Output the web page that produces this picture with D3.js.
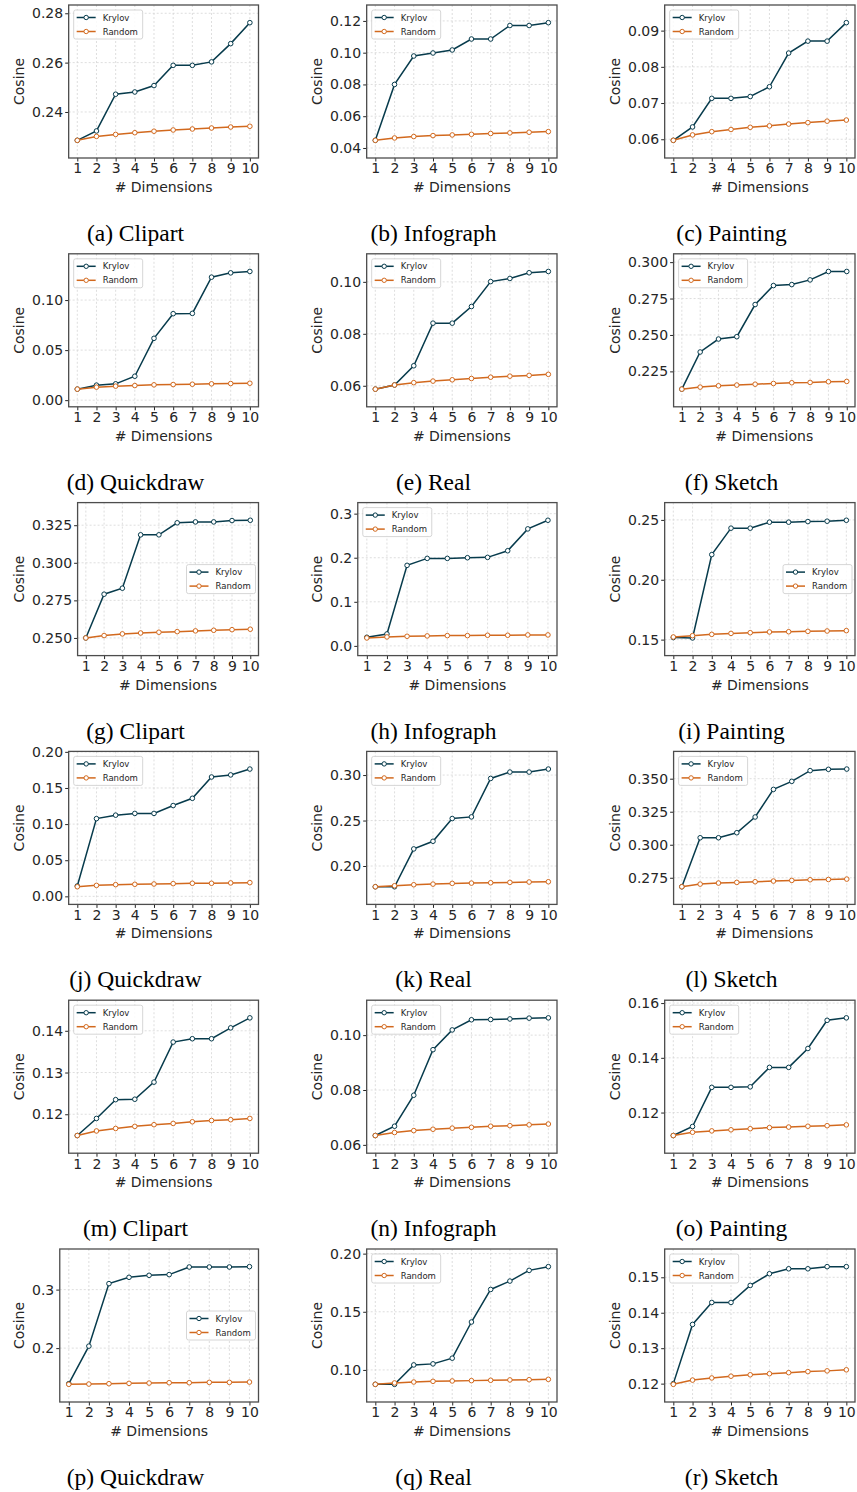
<!DOCTYPE html>
<html>
<head>
<meta charset="utf-8">
<script src="https://cdn.jsdelivr.net/npm/d3@7/dist/d3.min.js"></script>
<style>
  body { margin: 0; background: #fff; }
  svg text { font-family: "DejaVu Sans", sans-serif; fill: #262626; }
  .grid line { stroke: #d6d6d6; stroke-width: 0.8; stroke-dasharray: 2,2; }
  .axis text { font-size: 14px; }
  .axis line { stroke: #262626; }
  .axis path.domain { display: none; }
  .frame { fill: none; stroke: #4d4d4d; stroke-width: 1.3; }
  .legend text { font-size: 8.5px; }
  .caption { font-family: "Liberation Serif", "Times New Roman", serif !important; font-size: 23.5px; fill: #000 !important; }
</style>
</head>
<body>
<svg width="857" height="1492"></svg>
<script>
const dims = [1, 2, 3, 4, 5, 6, 7, 8, 9, 10];

const captions = [
  '(a) Clipart', '(b) Infograph', '(c) Painting',
  '(d) Quickdraw', '(e) Real', '(f) Sketch',
  '(g) Clipart', '(h) Infograph', '(i) Painting',
  '(j) Quickdraw', '(k) Real', '(l) Sketch',
  '(m) Clipart', '(n) Infograph', '(o) Painting',
  '(p) Quickdraw', '(q) Real', '(r) Sketch'
];

const krylov = [
  [0.2285, 0.2323, 0.2472, 0.2481, 0.2507, 0.2589, 0.2589, 0.2603, 0.2677, 0.2762],
  [0.0448, 0.0800, 0.0979, 0.0998, 0.1017, 0.1086, 0.1086, 0.1171, 0.1171, 0.1189],
  [0.0597, 0.0634, 0.0713, 0.0713, 0.0718, 0.0745, 0.0838, 0.0871, 0.0871, 0.0922],
  [0.0110, 0.0150, 0.0163, 0.0239, 0.0618, 0.0864, 0.0867, 0.1229, 0.1272, 0.1286],
  [0.0587, 0.0603, 0.0677, 0.0841, 0.0841, 0.0905, 0.1001, 0.1013, 0.1035, 0.1040],
  [0.2128, 0.2383, 0.2472, 0.2488, 0.2709, 0.2839, 0.2846, 0.2878, 0.2936, 0.2936],
  [0.2500, 0.2791, 0.2831, 0.3186, 0.3186, 0.3266, 0.3272, 0.3272, 0.3281, 0.3283],
  [0.0195, 0.0270, 0.1827, 0.1985, 0.1985, 0.2000, 0.2008, 0.2158, 0.2654, 0.2850],
  [0.1517, 0.1514, 0.2210, 0.2431, 0.2431, 0.2481, 0.2481, 0.2486, 0.2489, 0.2497],
  [0.0143, 0.1076, 0.1124, 0.1148, 0.1148, 0.1257, 0.1357, 0.1652, 0.1681, 0.1762],
  [0.1772, 0.1772, 0.2188, 0.2272, 0.2522, 0.2540, 0.2963, 0.3033, 0.3033, 0.3066],
  [0.2682, 0.3053, 0.3053, 0.3091, 0.3210, 0.3419, 0.3480, 0.3561, 0.3571, 0.3573],
  [0.1149, 0.1190, 0.1235, 0.1236, 0.1277, 0.1373, 0.1381, 0.1381, 0.1407, 0.1431],
  [0.0634, 0.0668, 0.0781, 0.0947, 0.1019, 0.1056, 0.1057, 0.1059, 0.1062, 0.1063],
  [0.1116, 0.1149, 0.1292, 0.1292, 0.1294, 0.1365, 0.1365, 0.1434, 0.1537, 0.1546],
  [0.1392, 0.2034, 0.3102, 0.3210, 0.3244, 0.3256, 0.3386, 0.3386, 0.3386, 0.3392],
  [0.0876, 0.0876, 0.1043, 0.1052, 0.1101, 0.1412, 0.1692, 0.1764, 0.1856, 0.1888],
  [0.1200, 0.1367, 0.1429, 0.1429, 0.1477, 0.1510, 0.1524, 0.1524, 0.1530, 0.1530]
];

const random = [
  [0.2285, 0.2301, 0.2309, 0.2316, 0.2322, 0.2327, 0.2331, 0.2335, 0.2339, 0.2342],
  [0.0448, 0.0463, 0.0472, 0.0478, 0.0482, 0.0486, 0.0491, 0.0495, 0.0499, 0.0503],
  [0.0597, 0.0612, 0.0621, 0.0627, 0.0633, 0.0637, 0.0642, 0.0646, 0.0650, 0.0653],
  [0.0110, 0.0130, 0.0140, 0.0146, 0.0153, 0.0156, 0.0159, 0.0163, 0.0166, 0.0169],
  [0.0587, 0.0603, 0.0612, 0.0618, 0.0623, 0.0628, 0.0633, 0.0637, 0.0640, 0.0644],
  [0.2128, 0.2142, 0.2151, 0.2156, 0.2162, 0.2167, 0.2172, 0.2174, 0.2179, 0.2181],
  [0.2500, 0.2516, 0.2527, 0.2533, 0.2538, 0.2542, 0.2547, 0.2551, 0.2555, 0.2558],
  [0.0180, 0.0203, 0.0218, 0.0226, 0.0233, 0.0233, 0.0241, 0.0241, 0.0248, 0.0248],
  [0.1522, 0.1533, 0.1544, 0.1552, 0.1558, 0.1564, 0.1566, 0.1569, 0.1572, 0.1575],
  [0.0133, 0.0152, 0.0162, 0.0167, 0.0171, 0.0176, 0.0181, 0.0181, 0.0186, 0.0190],
  [0.1772, 0.1783, 0.1794, 0.1801, 0.1809, 0.1812, 0.1816, 0.1820, 0.1824, 0.1827],
  [0.2682, 0.2702, 0.2710, 0.2715, 0.2720, 0.2725, 0.2730, 0.2735, 0.2737, 0.2740],
  [0.1149, 0.1160, 0.1166, 0.1171, 0.1175, 0.1178, 0.1182, 0.1185, 0.1187, 0.1190],
  [0.0634, 0.0645, 0.0652, 0.0657, 0.0661, 0.0664, 0.0668, 0.0670, 0.0673, 0.0676],
  [0.1116, 0.1128, 0.1133, 0.1137, 0.1141, 0.1145, 0.1147, 0.1150, 0.1152, 0.1155],
  [0.1381, 0.1386, 0.1392, 0.1398, 0.1403, 0.1409, 0.1409, 0.1415, 0.1415, 0.1420],
  [0.0876, 0.0888, 0.0896, 0.0902, 0.0905, 0.0908, 0.0911, 0.0914, 0.0916, 0.0919],
  [0.1198, 0.1210, 0.1216, 0.1221, 0.1225, 0.1228, 0.1231, 0.1234, 0.1236, 0.1239]
];

const yTicks = [
  ['0.24', '0.26', '0.28'],
  ['0.04', '0.06', '0.08', '0.10', '0.12'],
  ['0.06', '0.07', '0.08', '0.09'],
  ['0.00', '0.05', '0.10'],
  ['0.06', '0.08', '0.10'],
  ['0.225', '0.250', '0.275', '0.300'],
  ['0.250', '0.275', '0.300', '0.325'],
  ['0.0', '0.1', '0.2', '0.3'],
  ['0.15', '0.20', '0.25'],
  ['0.00', '0.05', '0.10', '0.15', '0.20'],
  ['0.20', '0.25', '0.30'],
  ['0.275', '0.300', '0.325', '0.350'],
  ['0.12', '0.13', '0.14'],
  ['0.06', '0.08', '0.10'],
  ['0.12', '0.14', '0.16'],
  ['0.2', '0.3'],
  ['0.10', '0.15', '0.20'],
  ['0.12', '0.13', '0.14', '0.15']
];

// 'ul' = upper left, 'cr' = center right
const legendAt = ['ul', 'ul', 'ul', 'ul', 'ul', 'ul', 'cr', 'ul', 'cr',
                  'ul', 'ul', 'ul', 'ul', 'ul', 'ul', 'cr', 'ul', 'ul'];

const seriesNames = ['Krylov', 'Random'];
const colors = ['#073b4c', '#d2691e'];

const svg = d3.select('svg');
const colW = 298;
const rowH = 248.8;
const colRight = [258.5, 557, 855];

captions.forEach(function(cap, i) {
  const col = i % 3;
  const row = Math.floor(i / 3);
  const ox = col * colW;
  const oy = row * rowH;
  const g = svg.append('g');

  // widest y tick label decides where the plot starts
  const probe = g.append('text').style('font-size', '14px');
  let tw = 0;
  yTicks[i].forEach(function(t) {
    probe.text(t);
    tw = Math.max(tw, probe.node().getComputedTextLength());
  });
  probe.remove();

  const left = ox + 32 + tw + 5.5;
  const right = colRight[col];
  const top = oy + 5;
  const bottom = oy + 158;

  const ext = d3.extent(krylov[i].concat(random[i]));
  const pad = (ext[1] - ext[0]) * 0.15;

  const x = d3.scaleLinear().domain([0.55, 10.45]).range([left, right]);
  const y = d3.scaleLinear().domain([ext[0] - pad, ext[1] + pad]).range([bottom, top]);
  const tickVals = yTicks[i].map(Number);

  const grid = g.append('g').attr('class', 'grid');
  grid.selectAll('.gx').data(dims).enter().append('line')
    .attr('x1', d => x(d)).attr('x2', d => x(d))
    .attr('y1', top).attr('y2', bottom);
  grid.selectAll('.gy').data(tickVals).enter().append('line')
    .attr('x1', left).attr('x2', right)
    .attr('y1', d => y(d)).attr('y2', d => y(d));

  g.append('g')
    .attr('class', 'axis')
    .attr('transform', `translate(0, ${bottom})`)
    .call(d3.axisBottom(x).tickValues(dims).tickSize(3.5).tickPadding(2).tickFormat(d3.format('d')));

  g.append('g')
    .attr('class', 'axis')
    .attr('transform', `translate(${left}, 0)`)
    .call(d3.axisLeft(y).tickValues(tickVals).tickSize(3.5).tickPadding(2)
      .tickFormat(function(d, j) { return yTicks[i][j]; }));

  [krylov[i], random[i]].forEach(function(vals, s) {
    const pts = dims.map(function(d, j) { return {x: d, y: vals[j]}; });
    const line = d3.line().x(d => x(d.x)).y(d => y(d.y));
    g.append('path')
      .datum(pts)
      .attr('d', line)
      .attr('fill', 'none')
      .attr('stroke', colors[s])
      .attr('stroke-width', 1.5);
    g.selectAll('.dot' + s).data(pts).enter().append('circle')
      .attr('cx', d => x(d.x))
      .attr('cy', d => y(d.y))
      .attr('r', 2.3)
      .attr('fill', '#fff')
      .attr('stroke', colors[s])
      .attr('stroke-width', 1);
  });

  g.append('rect')
    .attr('class', 'frame')
    .attr('x', left).attr('y', top)
    .attr('width', right - left).attr('height', bottom - top);

  // legend
  const lw = 69, lh = 29;
  const lx = legendAt[i] === 'ul' ? left + 5 : right - lw - 3;
  const ly = legendAt[i] === 'ul' ? top + 5 : (top + bottom) / 2 - lh / 2;
  const leg = g.append('g').attr('class', 'legend').attr('transform', `translate(${lx}, ${ly})`);
  leg.append('rect')
    .attr('width', lw).attr('height', lh).attr('rx', 2)
    .attr('fill', '#fff').attr('fill-opacity', 0.85)
    .attr('stroke', '#cccccc').attr('stroke-width', 0.8);
  seriesNames.forEach(function(name, s) {
    const yy = 7.5 + s * 14;
    leg.append('line')
      .attr('x1', 3).attr('x2', 22).attr('y1', yy).attr('y2', yy)
      .attr('stroke', colors[s]).attr('stroke-width', 1.5);
    leg.append('circle')
      .attr('cx', 12.5).attr('cy', yy).attr('r', 2.2)
      .attr('fill', '#fff').attr('stroke', colors[s]).attr('stroke-width', 1);
    leg.append('text')
      .attr('x', 29).attr('y', yy + 3)
      .text(name);
  });

  g.append('text')
    .attr('x', (left + right) / 2)
    .attr('y', oy + 192)
    .attr('text-anchor', 'middle')
    .style('font-size', '14px')
    .text('# Dimensions');

  g.append('text')
    .attr('transform', `translate(${ox + 24}, ${(top + bottom) / 2}) rotate(-90)`)
    .attr('text-anchor', 'middle')
    .style('font-size', '14px')
    .text('Cosine');

  g.append('text')
    .attr('class', 'caption')
    .attr('x', ox + 135.5)
    .attr('y', oy + 241)
    .attr('text-anchor', 'middle')
    .text(cap);
});
</script>
</body>
</html>
